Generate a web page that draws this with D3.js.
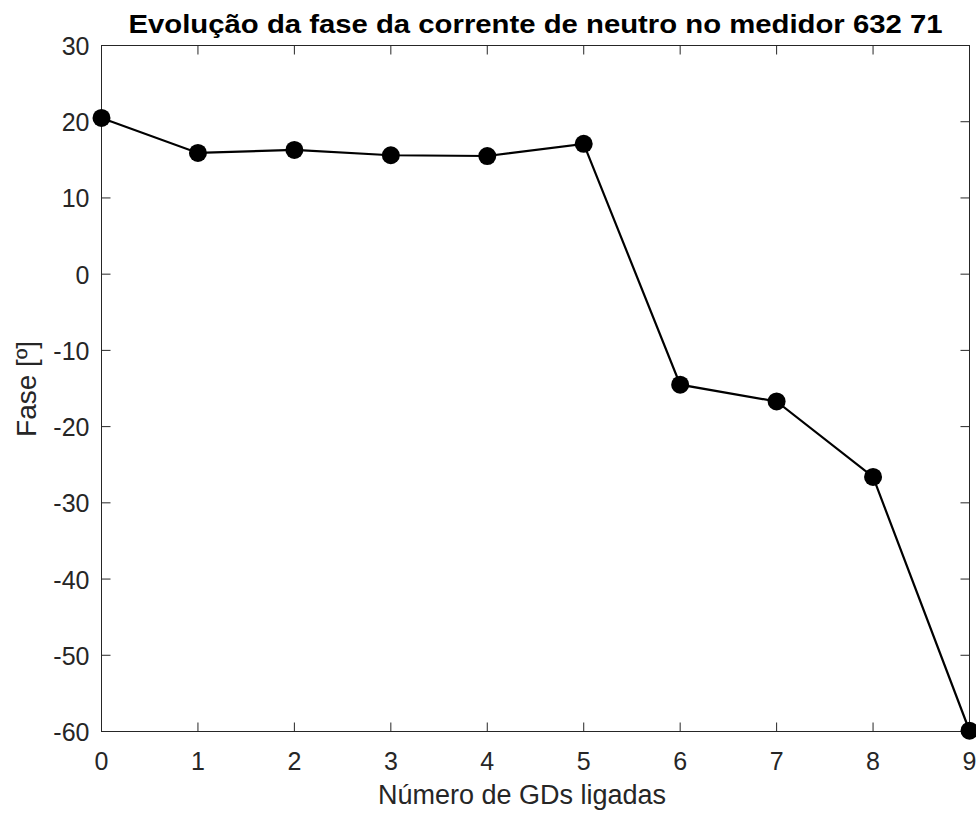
<!DOCTYPE html>
<html><head><meta charset="utf-8">
<script src="https://cdn.jsdelivr.net/npm/d3@7"></script>
<style>body{margin:0;background:#fff;} text{font-family:"Liberation Sans",Arial,sans-serif;}</style>
</head><body>
<svg id="c" width="976" height="815"></svg>
<script>
const xValues = [0,1,2,3,4,5,6,7,8,9];
const phaseValues = [20.5,15.9,16.3,15.6,15.5,17.1,-14.5,-16.7,-26.6,-59.9];
const xTicks = [0,1,2,3,4,5,6,7,8,9];
const yTicks = [-60,-50,-40,-30,-20,-10,0,10,20,30];
const title = "Evolução da fase da corrente de neutro no medidor 632 71";
const xLabel = "Número de GDs ligadas";
const yLabel = "Fase [º]";

const svg = d3.select("#c");
const L=101.5,R=969.5,T=45.5,B=731.5;
const x = d3.scaleLinear().domain([0,9]).range([L,R]);
const y = d3.scaleLinear().domain([-60,30]).range([B,T]);
const ac="#262626";
const tl=9;
const fs=25;

const g = svg.append("g");
g.append("rect").attr("x",L).attr("y",T).attr("width",R-L).attr("height",B-T).attr("fill","none").attr("stroke",ac).attr("stroke-width",1);
xTicks.forEach(t=>{
  g.append("line").attr("x1",x(t)).attr("x2",x(t)).attr("y1",B).attr("y2",B-tl).attr("stroke",ac);
  g.append("line").attr("x1",x(t)).attr("x2",x(t)).attr("y1",T).attr("y2",T+tl).attr("stroke",ac);
  g.append("text").attr("x",x(t)).attr("y",B+38.5).attr("text-anchor","middle").attr("font-size",fs).attr("fill",ac).text(t);
});
yTicks.forEach(t=>{
  g.append("line").attr("x1",L).attr("x2",L+tl).attr("y1",y(t)).attr("y2",y(t)).attr("stroke",ac);
  g.append("line").attr("x1",R).attr("x2",R-tl).attr("y1",y(t)).attr("y2",y(t)).attr("stroke",ac);
  g.append("text").attr("x",L-12).attr("y",y(t)+9.5).attr("text-anchor","end").attr("font-size",fs).attr("fill",ac).text(t);
});
const data = xValues.map((v,i)=>({x:v,y:phaseValues[i]}));
g.append("path").datum(data).attr("d",d3.line().x(d=>x(d.x)).y(d=>y(d.y)))
  .attr("fill","none").attr("stroke","#000").attr("stroke-width",2.2);
g.selectAll("circle.m").data(data).enter().append("circle").attr("class","m")
  .attr("cx",d=>x(d.x)).attr("cy",d=>y(d.y)).attr("r",9).attr("fill","#000");
svg.append("text").attr("x",(L+R)/2).attr("y",33).attr("text-anchor","middle").attr("font-size",26).attr("font-weight","bold").attr("fill","#000")
  .attr("textLength",814).attr("lengthAdjust","spacingAndGlyphs").text(title);
svg.append("text").attr("x",522).attr("y",804).attr("text-anchor","middle").attr("font-size",27).attr("fill",ac).text(xLabel);
svg.append("text").attr("transform",`translate(36,389) rotate(-90)`).attr("text-anchor","middle").attr("font-size",28).attr("fill",ac).text(yLabel);
</script>
</body></html>
